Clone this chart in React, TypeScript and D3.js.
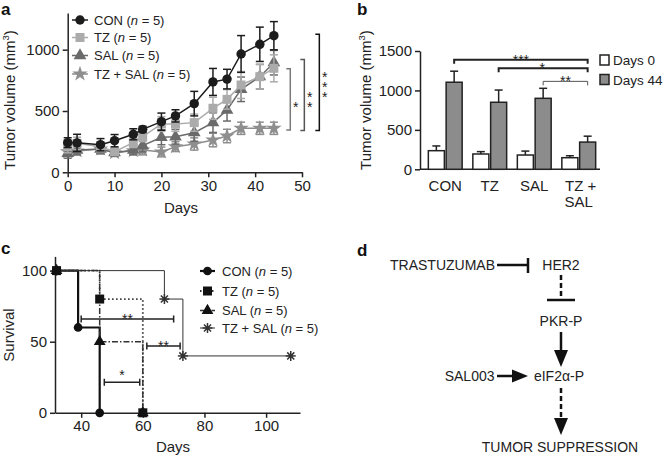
import React, { useEffect, useRef } from 'react';
import * as d3 from 'd3';

// Panel a: tumor growth
const days = [0, 2, 7, 10, 14, 16, 20, 23, 27, 31, 34, 37, 41, 44];
const conVol = [242, 240, 225, 258, 310, 350, 413, 460, 560, 737, 760, 965, 1044, 1114];
const conErr = [40, 70, 50, 50, 45, 25, 70, 50, 100, 110, 80, 150, 140, 115];
const tzVol = [209, 236, 209, 168, 242, 290, 394, 394, 405, 522, 595, 712, 780, 848];
const tzErr = [50, 50, 40, 30, 40, 40, 60, 60, 70, 90, 80, 110, 100, 110];
const salVol = [155, 182, 190, 160, 182, 217, 285, 290, 323, 405, 508, 677, 780, 894];
const salErr = [40, 40, 40, 30, 40, 50, 60, 60, 70, 80, 90, 100, 100, 100];
const comboVol = [168, 174, 190, 160, 176, 182, 166, 209, 231, 263, 296, 359, 359, 359];
const comboErr = [30, 30, 30, 30, 30, 40, 40, 40, 50, 55, 55, 50, 50, 50];

// Panel b: day 0 vs day 44
const groups = ['CON', 'TZ', 'SAL', 'TZ + SAL'];
const day0 = [236, 194, 181, 147];
const day0Err = [60, 30, 50, 25];
const day44 = [1104, 850, 900, 345];
const day44Err = [140, 155, 127, 75];

// Panel c: survival (Kaplan-Meier steps)
const survCon = [[32, 100], [39, 60], [46, 0]];
const survTz = [[32, 100], [46, 80], [60, 0]];
const survSal = [[32, 100], [46, 50], [60, 0]];
const survCombo = [[32, 100], [67, 80], [73, 40], [108, 40]];

const FONT = '"Liberation Sans", Arial, Helvetica, sans-serif';
const AX = 15;

const App: React.FC = () => {
  const svgRef = useRef<SVGSVGElement>(null);

  useEffect(() => {
    if (!svgRef.current) return;
    const svg = d3.select(svgRef.current);
    svg.selectAll('*').remove();
    svg.attr('font-family', FONT);

    const styleAxis = (g: any) => {
      g.selectAll('path').attr('stroke', '#222').attr('stroke-width', 1.5);
      g.selectAll('line').attr('stroke', '#222').attr('stroke-width', 1.5);
      g.selectAll('text').attr('font-size', AX).attr('fill', '#222').attr('font-family', FONT);
    };
    const fmt = d3.format('d');

    const panelLabel = (t: string, x: number, y: number) =>
      svg.append('text').attr('x', x).attr('y', y).attr('font-size', 17)
        .attr('font-weight', 'bold').attr('fill', '#111').text(t);

    const yTitle = (x: number, y: number, parts: [string, string, string]) => {
      const t = svg.append('text')
        .attr('transform', `translate(${x},${y}) rotate(-90)`)
        .attr('text-anchor', 'middle').attr('font-size', AX).attr('fill', '#222');
      t.append('tspan').text(parts[0]);
      t.append('tspan').attr('font-size', 9.5).attr('dy', -6).text(parts[1]);
      t.append('tspan').attr('dy', 6).text(parts[2]);
    };

    // stacked asterisks (vertical writing, upright glyphs)
    const stackStars = (x: number, cy: number, label: string) => {
      svg.append('text').attr('x', x).attr('y', cy + 4)
        .attr('writing-mode', 'vertical-rl')
        .style('text-orientation', 'upright')
        .attr('letter-spacing', -6)
        .attr('text-anchor', 'middle')
        .attr('font-size', 14).attr('fill', '#222').text(label);
    };

    // ---------- panel a ----------
    panelLabel('a', 1, 15);
    const xA = d3.scaleLinear().domain([0, 50]).range([67.7, 302]);
    const yA = d3.scaleLinear().domain([0, 1300]).range([172.3, 12.9]);

    svg.append('g').attr('transform', `translate(0,${yA(0)})`)
      .call(d3.axisBottom(xA).tickValues([0, 10, 20, 30, 40, 50]).tickFormat(fmt as any)
        .tickSize(5).tickSizeOuter(0).tickPadding(3))
      .call(styleAxis);
    svg.append('g').attr('transform', `translate(${xA(0)},0)`)
      .call(d3.axisLeft(yA).tickValues([0, 500, 1000]).tickFormat(fmt as any)
        .tickSize(5).tickSizeOuter(0).tickPadding(3))
      .call(styleAxis);
    svg.append('text').attr('x', 181).attr('y', 213).attr('text-anchor', 'middle')
      .attr('font-size', AX).attr('fill', '#222').text('Days');
    yTitle(15, 100, ['Tumor volume (mm', '3', ')']);

    const seriesA = [
      { name: 'TZ + SAL', vol: comboVol, err: comboErr, color: '#8e8e8e', sym: d3.symbolStar, size: 75 },
      { name: 'SAL', vol: salVol, err: salErr, color: '#6a6a6a', sym: d3.symbolTriangle, size: 70 },
      { name: 'TZ', vol: tzVol, err: tzErr, color: '#ababab', sym: d3.symbolSquare, size: 81 },
      { name: 'CON', vol: conVol, err: conErr, color: '#1c1c1c', sym: d3.symbolCircle, size: 70 },
    ];
    const lineA = d3.line<number>().x((_, i) => xA(days[i])).y(d => yA(d));
    seriesA.forEach(s => {
      const g = svg.append('g');
      g.append('path').attr('d', lineA(s.vol)).attr('fill', 'none')
        .attr('stroke', s.color).attr('stroke-width', 1.5);
      s.vol.forEach((v, i) => {
        const x = xA(days[i]);
        const y1 = yA(v - s.err[i]);
        const y2 = yA(v + s.err[i]);
        g.append('line').attr('x1', x).attr('x2', x).attr('y1', y1).attr('y2', y2)
          .attr('stroke', s.color).attr('stroke-width', 1.5);
        [y1, y2].forEach(yy => g.append('line').attr('x1', x - 4).attr('x2', x + 4)
          .attr('y1', yy).attr('y2', yy).attr('stroke', s.color).attr('stroke-width', 1.5));
        g.append('path').attr('d', d3.symbol(s.sym, s.size)())
          .attr('transform', `translate(${x},${yA(v)})`).attr('fill', s.color);
      });
    });

    // legend a
    const legA = [...seriesA].reverse();
    const legARows = [20, 37.5, 55.5, 74];
    legA.forEach((s, i) => {
      const y = legARows[i];
      svg.append('line').attr('x1', 72).attr('x2', 88).attr('y1', y).attr('y2', y)
        .attr('stroke', s.color).attr('stroke-width', 1.5);
      svg.append('path').attr('d', d3.symbol(s.sym, s.size)())
        .attr('transform', `translate(80,${y})`).attr('fill', s.color);
      const t = svg.append('text').attr('x', 94).attr('y', y + 4.5).attr('font-size', 13).attr('fill', '#222');
      t.append('tspan').text(`${s.name} (`);
      t.append('tspan').attr('font-style', 'italic').text('n');
      t.append('tspan').text(' = 5)');
    });

    // significance brackets a
    const bracketsA = [
      { label: '*', day: 47.5, lo: 345, hi: 845, color: '#7a7a7a', cy: 100 },
      { label: '**', day: 50.5, lo: 340, hi: 920, color: '#555', cy: 95 },
      { label: '***', day: 53.7, lo: 340, hi: 1125, color: '#111', cy: 80 },
    ];
    bracketsA.forEach(b => {
      const x = xA(b.day);
      svg.append('path')
        .attr('d', `M${x - 4},${yA(b.hi)}H${x}V${yA(b.lo)}H${x - 4}`)
        .attr('fill', 'none').attr('stroke', b.color).attr('stroke-width', 1.5);
      stackStars(x + 5.5, b.cy, b.label);
    });

    // ---------- panel b ----------
    panelLabel('b', 357, 15);
    const xB = d3.scaleBand<string>().domain(groups).range([423, 601]).paddingInner(0.24).paddingOuter(0.12);
    const xBi = d3.scaleBand<string>().domain(['d0', 'd44']).range([0, xB.bandwidth()]).paddingInner(0.1);
    const yB = d3.scaleLinear().domain([0, 1500]).range([169.3, 51]);

    svg.append('line').attr('x1', 420).attr('x2', 600).attr('y1', yB(0)).attr('y2', yB(0))
      .attr('stroke', '#222').attr('stroke-width', 1.5);
    svg.append('g').attr('transform', `translate(420,0)`)
      .call(d3.axisLeft(yB).tickValues([0, 500, 1000, 1500]).tickFormat(fmt as any)
        .tickSize(5).tickSizeOuter(0).tickPadding(3))
      .call(styleAxis);
    groups.forEach(gname => {
      const cx = xB(gname)! + xB.bandwidth() / 2;
      const lines = gname === 'TZ + SAL' ? ['TZ +', 'SAL'] : [gname];
      lines.forEach((l, k) => svg.append('text').attr('x', cx + (k === 0 && lines.length > 1 ? 2 : 0))
        .attr('y', 191 + k * 16).attr('text-anchor', 'middle').attr('font-size', AX)
        .attr('fill', '#222').text(l));
    });
    yTitle(371, 100, ['Tumor volume (mm', '3', ')']);

    const barSets = [
      { key: 'd0', vals: day0, errs: day0Err, fill: '#ffffff' },
      { key: 'd44', vals: day44, errs: day44Err, fill: '#8c8c8c' },
    ];
    barSets.forEach(bs => {
      groups.forEach((gname, i) => {
        const x = xB(gname)! + xBi(bs.key)!;
        const w = xBi.bandwidth();
        const cx = x + w / 2;
        svg.append('line').attr('x1', cx).attr('x2', cx)
          .attr('y1', yB(bs.vals[i])).attr('y2', yB(bs.vals[i] + bs.errs[i]))
          .attr('stroke', '#222').attr('stroke-width', 1.5);
        svg.append('line').attr('x1', cx - 4).attr('x2', cx + 4)
          .attr('y1', yB(bs.vals[i] + bs.errs[i])).attr('y2', yB(bs.vals[i] + bs.errs[i]))
          .attr('stroke', '#222').attr('stroke-width', 1.5);
        svg.append('rect').attr('x', x).attr('y', yB(bs.vals[i]))
          .attr('width', w).attr('height', yB(0) - yB(bs.vals[i]))
          .attr('fill', bs.fill).attr('stroke', '#222').attr('stroke-width', 1.5);
      });
    });

    // significance lines b
    const sigB = [
      { label: '***', from: 'CON', level: 1390, color: '#222', w: 2, dx: 0 },
      { label: '*', from: 'TZ', level: 1280, color: '#222', w: 2, dx: -1 },
      { label: '**', from: 'SAL', level: 1115, color: '#555', w: 1, dx: 0 },
    ];
    sigB.forEach(s => {
      const x1 = xB(s.from)! + xBi('d44')! + xBi.bandwidth() / 2;
      const x2 = xB('TZ + SAL')! + xBi('d44')! + xBi.bandwidth() / 2;
      const y = yB(s.level);
      svg.append('path').attr('d', `M${x1},${y + 4}V${y}H${x2}V${y + 4}`)
        .attr('fill', 'none').attr('stroke', s.color).attr('stroke-width', s.w);
      svg.append('text').attr('x', (x1 + x2) / 2 + s.dx).attr('y', y + 5)
        .attr('text-anchor', 'middle').attr('font-size', 14).attr('fill', '#222').text(s.label);
    });

    // legend b
    [['Days 0', '#ffffff', 60], ['Days 44', '#8c8c8c', 79.5]].forEach(([label, fill, y]) => {
      svg.append('rect').attr('x', 600).attr('y', (y as number) - 5).attr('width', 9).attr('height', 10)
        .attr('fill', fill as string).attr('stroke', '#222').attr('stroke-width', 1.5);
      svg.append('text').attr('x', 613).attr('y', (y as number) + 5).attr('font-size', 13.5)
        .attr('fill', '#222').text(label as string);
    });

    // ---------- panel c ----------
    panelLabel('c', 1, 254);
    const xC = d3.scaleLinear().domain([31.5, 111]).range([55, 300]);
    const yC = d3.scaleLinear().domain([0, 110]).range([412.8, 256.4]);
    svg.append('g').attr('transform', `translate(0,${yC(0)})`)
      .call(d3.axisBottom(xC).tickValues([40, 60, 80, 100]).tickFormat(fmt as any)
        .tickSize(5).tickSizeOuter(0).tickPadding(3))
      .call(styleAxis);
    svg.append('g').attr('transform', `translate(${xC(31.5)},0)`)
      .call(d3.axisLeft(yC).tickValues([0, 50, 100]).tickFormat(fmt as any)
        .tickSize(5).tickSizeOuter(0).tickPadding(3))
      .call(styleAxis);
    svg.append('text').attr('x', 173).attr('y', 452).attr('text-anchor', 'middle')
      .attr('font-size', AX).attr('fill', '#222').text('Days');
    svg.append('text').attr('transform', `translate(14,335) rotate(-90)`)
      .attr('text-anchor', 'middle').attr('font-size', AX).attr('fill', '#222').text('Survival');

    const stepLine = d3.line<number[]>().x(d => xC(d[0])).y(d => yC(d[1])).curve(d3.curveStepAfter);
    const star = (g: any, x: number, y: number) => {
      for (let k = 0; k < 4; k++) {
        const a = (k * Math.PI) / 4;
        g.append('line').attr('x1', x - 5 * Math.cos(a)).attr('y1', y - 5 * Math.sin(a))
          .attr('x2', x + 5 * Math.cos(a)).attr('y2', y + 5 * Math.sin(a))
          .attr('stroke', '#333').attr('stroke-width', 1.5);
      }
      g.append('circle').attr('cx', x).attr('cy', y).attr('r', 2).attr('fill', '#333');
    };
    const seriesC = [
      { name: 'CON', data: survCon, dash: null, w: 2.2, color: '#111', sym: d3.symbolCircle, size: 60 },
      { name: 'SAL', data: survSal, dash: '6,2,1.5,2', w: 1.5, color: '#333', sym: d3.symbolTriangle, size: 60 },
      { name: 'TZ + SAL', data: survCombo, dash: null, w: 1, color: '#333', sym: null, size: 0 },
      { name: 'TZ', data: survTz, dash: '1.5,2.5', w: 1.8, color: '#333', sym: d3.symbolSquare, size: 81 },
    ];
    seriesC.forEach(s => {
      svg.append('path').attr('d', stepLine(s.data)).attr('fill', 'none')
        .attr('stroke', s.color).attr('stroke-width', s.w)
        .attr('stroke-dasharray', s.dash ?? null);
    });
    seriesC.forEach(s => {
      s.data.forEach(d => {
        if (s.sym) {
          svg.append('path').attr('d', d3.symbol(s.sym, s.size)())
            .attr('transform', `translate(${xC(d[0])},${yC(d[1])})`).attr('fill', '#111');
        } else {
          star(svg, xC(d[0]), yC(d[1]));
        }
      });
    });

    // significance bars c
    const sigC = [
      { label: '**', from: 40, to: 70, level: 66 },
      { label: '**', from: 61.3, to: 72.1, level: 47 },
      { label: '*', from: 47.5, to: 59, level: 21.5 },
    ];
    sigC.forEach(s => {
      const y = yC(s.level);
      const x1 = xC(s.from);
      const x2 = xC(s.to);
      svg.append('path').attr('d', `M${x1},${y - 3.5}V${y + 3.5}M${x1},${y}H${x2}M${x2},${y - 3.5}V${y + 3.5}`)
        .attr('fill', 'none').attr('stroke', '#222').attr('stroke-width', 1.5);
      svg.append('text').attr('x', (x1 + x2) / 2).attr('y', y + (s.label === '*' ? -2 : 5))
        .attr('text-anchor', 'middle').attr('font-size', 14).attr('fill', '#222').text(s.label);
    });

    // legend c
    const legC = [seriesC[0], seriesC[3], seriesC[1], seriesC[2]];
    const legCRows = [271, 291, 310.5, 328];
    legC.forEach((s, i) => {
      const y = legCRows[i];
      svg.append('line').attr('x1', 200).attr('x2', 215).attr('y1', y).attr('y2', y)
        .attr('stroke', s.color).attr('stroke-width', s.w).attr('stroke-dasharray', s.dash ?? null);
      if (s.sym) {
        svg.append('path').attr('d', d3.symbol(s.sym, s.size)())
          .attr('transform', `translate(207.5,${y})`).attr('fill', '#111');
      } else {
        star(svg, 207.5, y);
      }
      const t = svg.append('text').attr('x', 222).attr('y', y + 4.5).attr('font-size', 13).attr('fill', '#222');
      t.append('tspan').text(`${s.name} (`);
      t.append('tspan').attr('font-style', 'italic').text('n');
      t.append('tspan').text(' = 5)');
    });

    // ---------- panel d ----------
    panelLabel('d', 357, 256);
    const dg = svg.append('g').attr('font-size', 14).attr('fill', '#222');
    const nodes = [
      { text: 'TRASTUZUMAB', x: 495, y: 270, anchor: 'end' },
      { text: 'HER2', x: 561, y: 270, anchor: 'middle' },
      { text: 'PKR-P', x: 561, y: 326, anchor: 'middle' },
      { text: 'eIF2\u03b1-P', x: 559, y: 380.5, anchor: 'middle' },
      { text: 'SAL003', x: 494.5, y: 380.5, anchor: 'end' },
      { text: 'TUMOR SUPPRESSION', x: 560, y: 452, anchor: 'middle' },
    ];
    nodes.forEach(n => dg.append('text').attr('x', n.x).attr('y', n.y)
      .attr('text-anchor', n.anchor).text(n.text));
    const ln = (x1: number, y1: number, x2: number, y2: number, dash?: string) =>
      dg.append('line').attr('x1', x1).attr('y1', y1).attr('x2', x2).attr('y2', y2)
        .attr('stroke', '#111').attr('stroke-width', 2.5).attr('stroke-dasharray', dash ?? null);
    const head = (pts: number[][]) =>
      dg.append('path').attr('d', 'M' + pts.map(p => p.join(',')).join('L') + 'Z').attr('fill', '#111');
    // TRASTUZUMAB -| HER2
    ln(497, 265, 528, 265);
    ln(528, 258, 528, 273);
    // HER2 --| PKR-P
    ln(561, 275, 561, 299, '5,3');
    ln(547, 300, 575, 300);
    // PKR-P -> eIF2a-P
    ln(561, 332, 561, 352);
    head([[554, 350], [568, 350], [561, 367]]);
    // SAL003 -> eIF2a-P
    ln(497, 376, 514, 376);
    head([[512, 369.5], [512, 382.5], [528, 376]]);
    // eIF2a-P --> TUMOR SUPPRESSION
    ln(561, 388, 561, 419, '5,3');
    head([[554, 418], [568, 418], [561, 435]]);
  }, []);

  return (
    <svg
      ref={svgRef}
      width={665}
      height={458}
      style={{ position: 'absolute', left: 0, top: 0, background: '#fff' }}
    />
  );
};

export default App;
